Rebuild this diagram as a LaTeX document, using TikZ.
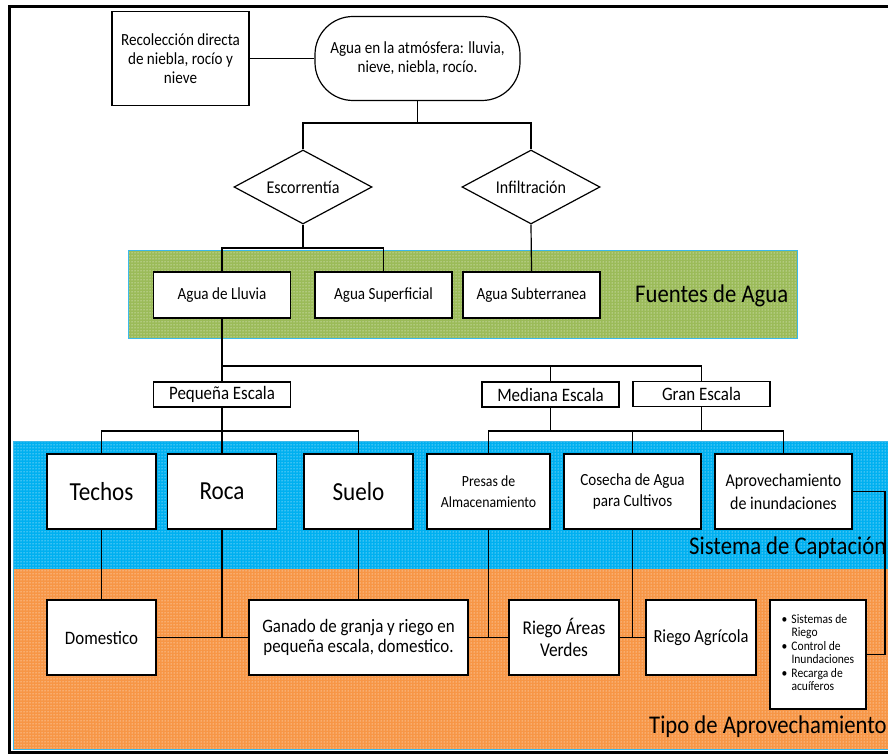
\documentclass[tikz,border=0pt]{standalone}
\usepackage{fontspec}
\setmainfont{Carlito}[FakeStretch = 0.89]
\usetikzlibrary{shapes.geometric, patterns}
\definecolor{verde}{RGB}{155,187,89}
\definecolor{azul}{RGB}{0,176,240}
\definecolor{naranja}{RGB}{247,150,70}
\definecolor{borde}{RGB}{60,185,235}

\begin{document}
\begin{tikzpicture}[x = 1pt, y = -1pt,
    caja/.style = {draw, fill = white, line width = 1.2pt, align = center, inner sep = 1pt, font = \fontsize{17}{19}\selectfont},
    rombo/.style = {caja, diamond, aspect = 1.86, minimum width = 138, minimum height = 74, inner sep = 0pt, font = \fontsize{18}{19}\selectfont},
    grande/.style = {caja, font = \fontsize{26}{28}\selectfont, minimum width = 109, minimum height = 75},
    media/.style = {caja, minimum height = 75},
    escala/.style = {caja, font = \fontsize{19}{20}\selectfont, minimum width = 137, minimum height = 25, inner sep = 0pt},
    rotulo/.style = {anchor = base west, font = \fontsize{25.5}{28}\selectfont, inner sep = 0pt},
    rama/.style = {line width = 1.2pt},
    banda/.style = {draw = borde, line width = 1pt}]

  \useasboundingbox (0, 0) rectangle (888, 754);
  \fill[white] (0, 0) rectangle (888, 754);

  \fill[verde] (128, 250) rectangle (797, 338);
  \fill[pattern = dots, pattern color = white] (128, 250) rectangle (797, 338);
  \draw[banda] (128, 250) rectangle (797, 338);

  \fill[azul] (13, 441) rectangle (895, 569);
  \fill[naranja] (13, 569) rectangle (895, 749);
  \fill[pattern = dots, pattern color = white] (13, 441) rectangle (895, 749);
  \draw[banda] (13, 441) rectangle (895, 749);

  \draw[line width = 3pt] (900, 7) -- (9, 7) -- (9, 752) -- (900, 752);

  \node[caja, minimum width = 137, minimum height = 94] (recol) at (180.5, 58.5) {Recolección directa\\de niebla, rocío y\\nieve};
  \node[caja, rounded corners = 38, minimum width = 205, minimum height = 84] (atmos) at (417.5, 58.5) {Agua en la atmósfera: lluvia,\\nieve, niebla, rocío.};

  \node[rombo] (escor) at (303, 187) {Escorrentía};
  \node[rombo] (infil) at (531, 187) {Infiltración};

  \foreach \n/\x/\t in {lluvia/222/Agua de Lluvia, superf/383.5/Agua Superficial, subter/531.5/Agua Subterranea}
    \node[caja, minimum width = 137, minimum height = 46] (\n) at (\x, 295) {\t};
  \node[rotulo] (fuentes) at (635, 302.5) {Fuentes de Agua};

  \node[escala] (pequena) at (222, 394.5) {Pequeña Escala};
  \node[escala] (mediana) at (550.5, 394.5) {Mediana Escala};
  \node[escala] (gran) at (701.5, 394) {Gran Escala};

  \foreach \n/\x/\t in {techos/101.5/Techos, roca/222/Roca, suelo/358.5/Suelo}
    \node[grande] (\n) at (\x, 491.5) {\t};
  \node[media, minimum width = 123, font = \fontsize{15.5}{21}\selectfont] (presas) at (488.5, 491.5) {Presas de\\Almacenamiento};
  \node[media, minimum width = 137, font = \fontsize{17}{21}\selectfont] (cosecha) at (632.5, 491.5) {Cosecha de Agua\\para Cultivos};
  \node[media, minimum width = 137, font = \fontsize{18}{23}\selectfont] (aprov) at (783.5, 491.5) {Aprovechamiento\\de inundaciones};
  \node[rotulo] (captacion) at (689, 554) {Sistema de Captación};

  \node[media, minimum width = 109, font = \fontsize{19}{22}\selectfont] (domestico) at (101.5, 637.5) {Domestico};
  \node[media, minimum width = 219, font = \fontsize{19}{20}\selectfont] (ganado) at (358.5, 637.5) {Ganado de granja y riego en\\pequeña escala, domestico.};
  \node[media, minimum width = 110, font = \fontsize{19.5}{22}\selectfont] (areas) at (564, 637.5) {Riego Áreas\\Verdes};
  \node[media, minimum width = 110, font = \fontsize{18.5}{22}\selectfont] (agricola) at (701, 637.5) {Riego Agrícola};
  \node[caja, minimum width = 96, minimum height = 109, font = \fontsize{13}{13.5}\selectfont] (usos) at (818, 654.5)
    {\begin{tabular}{@{}l@{\hspace{4pt}}l@{}}\textbullet & Sistemas de\\ & Riego\\ \textbullet & Control de\\ & Inundaciones\\ \textbullet & Recarga de\\ & acuíferos\end{tabular}};
  \node[rotulo] (tipo) at (649, 733) {Tipo de Aprovechamiento};

  \coordinate (j1) at (417.5, 123);
  \coordinate (j2) at (303, 248);
  \coordinate (j3) at (222, 366);
  \coordinate (j4) at (222, 431);
  \coordinate (j5) at (550.5, 431);
  \coordinate (j6) at (701.5, 431);
  \coordinate (r1) at (885, 491.5);

  \draw[rama] (recol) -- (atmos);
  \draw[rama] (atmos) -- (j1);
  \draw[rama] (escor.north) |- (j1) -| (infil.north);
  \draw[rama] (escor.south) -- (j2);
  \draw[rama] (lluvia.north) |- (j2) -| (superf.north);
  \draw[rama] (infil.south) -- (subter.north);
  \draw[rama] (lluvia.south) -- (pequena.north);
  \draw[rama] (j3) -| (gran.north);
  \draw[rama] (mediana.north) -- (mediana.north |- j3);
  \draw[rama] (pequena.south) -- (roca.north);
  \draw[rama] (techos.north) |- (j4) -| (suelo.north);
  \draw[rama] (mediana.south) -- (j5);
  \draw[rama] (presas.north) |- (j5) -| (cosecha.north);
  \draw[rama] (gran.south) -- (j6);
  \draw[rama] (cosecha.north) |- (j6) -| (aprov.north);
  \draw[rama] (techos.south) -- (domestico.north);
  \draw[rama] (domestico) -- (ganado);
  \draw[rama] (roca.south) -- (roca.south |- domestico);
  \draw[rama] (suelo.south) -- (ganado.north);
  \draw[rama] (ganado) -- (areas);
  \draw[rama] (presas.south) -- (presas.south |- areas);
  \draw[rama] (areas) -- (agricola);
  \draw[rama] (cosecha.south) -- (cosecha.south |- agricola);
  \draw[rama] (aprov.east) -- (r1) |- (usos.east);
\end{tikzpicture}
\end{document}
